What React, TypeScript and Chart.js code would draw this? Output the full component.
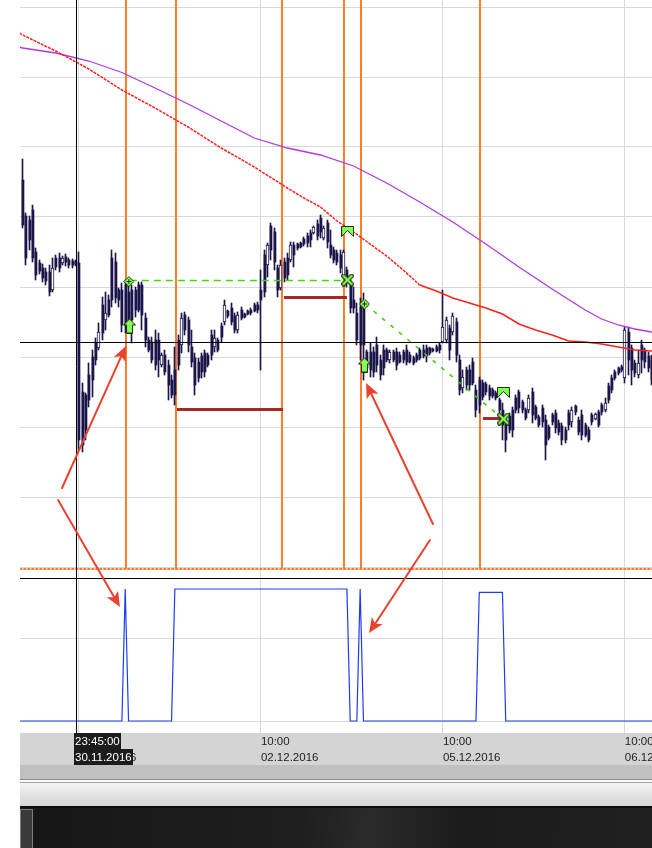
import React, { useEffect, useRef } from 'react';
import { Chart, registerables } from 'chart.js';

Chart.register(...registerables);

// ---------- DATA (price in points, one index = one candle) ----------
const OPEN = [
  420,384,380,390,348,337,332,328,328,310, 342,342,337,343,340,339,338,337,208,205,
  225,243,257,252,295,280,300,342,338,310, 310,315,308,310,310,315,315,282,260,258,
  260,260,235,245,235,220,230,260,255,285, 280,253,242,238,244,247,245,265,253,260,
  274,278,289,292,284,270,290,286,289,290, 295,295,310,345,335,374,368,332,312,338,
  342,340,355,356,357,361,364,367,367,376, 382,362,377,355,350,347,345,325,330,315,
  300,287,293,295,248,248,248,255,240,250, 250,240,248,248,245,248,250,245,242,245,
  250,250,252,252,251,253,255,258,260,272, 268,278,240,212,230,230,238,210,220,217,
  216,212,210,207,200,190,175,184,190,202, 208,198,190,190,208,193,183,192,180,173,
  185,187,177,174,170,187,178,194,180,185, 175,170,185,181,188,195,190,214,222,228,
  232,233,222,268,252,237,225,255,250,244, 240,
];
const HIGH = [
  441,387,384,395,352,340,336,332,335,342, 345,347,344,346,342,341,340,348,217,207,
  237,250,262,277,303,308,305,350,347,312, 317,320,315,315,313,318,318,287,263,263,
  270,267,247,250,240,225,253,265,287,288, 283,270,247,242,247,250,247,270,270,262,
  277,300,290,297,287,288,293,287,290,292, 297,298,330,350,357,377,372,335,340,342,
  347,358,358,357,358,363,367,370,374,380, 385,374,380,370,353,350,350,350,333,320,
  313,297,302,307,250,257,253,263,245,255, 252,250,250,252,248,250,255,248,244,247,
  252,255,255,253,252,255,257,310,283,275, 287,282,245,230,233,235,242,215,223,220,
  218,215,212,209,202,197,180,187,193,205, 210,200,192,205,212,195,185,195,185,175,
  187,190,180,177,173,190,193,195,183,190, 177,173,187,187,190,197,202,217,225,230,
  233,235,273,273,255,240,250,260,252,248, 245,
];
const LOW = [
  372,335,350,338,320,326,318,315,304,308, 330,328,335,334,332,332,334,150,148,160,
  193,203,235,250,260,270,283,293,297,293, 268,267,267,257,283,288,270,253,248,237,
  230,223,233,225,200,202,195,230,247,265, 248,233,205,218,222,223,233,240,248,248,
  258,275,282,275,267,267,280,282,285,285, 288,287,230,303,323,340,330,303,310,318,
  320,338,333,350,352,354,353,353,366,360, 362,360,352,342,337,335,327,322,313,287,
  287,255,240,220,228,223,223,228,220,225, 238,237,238,230,237,237,235,237,235,238,
  240,242,238,245,248,248,247,257,257,240, 265,238,205,207,210,210,215,183,187,200,
  205,200,202,200,187,160,148,167,163,187, 187,187,180,187,177,180,173,173,140,160,
  175,167,165,155,157,170,173,185,165,160, 163,158,175,180,173,185,188,197,207,220,
  225,228,217,225,215,223,222,227,232,228, 215,
];
const CLOSE = [
  375,342,360,342,325,329,322,319,308,332, 333,332,342,338,335,335,336,160,155,170,
  200,220,240,268,267,287,285,300,302,300, 275,275,280,280,290,290,285,260,250,240,
  235,240,245,228,215,205,205,235,282,270, 255,238,215,222,228,228,235,245,262,250,
  263,295,284,278,270,285,282,283,286,287, 289,290,300,308,355,350,338,310,335,322,
  325,355,345,352,353,356,357,360,373,364, 368,372,358,345,340,338,332,348,317,292,
  292,260,255,255,232,230,228,235,225,232, 240,248,240,235,238,240,238,238,237,240,
  242,244,244,247,249,249,250,273,280,250, 284,245,210,223,215,215,217,190,195,203,
  208,204,204,202,190,175,160,170,170,190, 192,190,182,202,185,182,175,178,155,162,
  178,172,168,160,160,175,190,188,168,165, 165,160,178,186,175,188,197,200,210,222,
  227,230,270,240,230,227,237,240,238,232, 220,
];

// moving averages (index, value)
const RED_MA_X = [-1,0,10,20,30,40,50,60,70,80,85,90,95,100,105,110,115,120,125,130,135,140,145,150,155,160,165,170,175,180,185,190,191];
const RED_MA = [567,565,549,531,510,492,473,452,433,412,402,393,379,368,356,344,330,315,309,302,297,292,286,276,270,265,259,258,256,253,250,249,248.5];
const PURPLE_MA_X = [-1,0,10,20,30,40,50,60,70,80,90,100,110,120,130,140,150,160,170,175,180,185,190,191];
const PURPLE_MA = [553,552,547,539,527.5,512,496,479,462,452,445,434,417,398,378,356,333,311,290,281,275,271,268,267.5];

// lower indicator (index, value)
const IND_X = [-1,30,31,32,45,46,98,99,101,102,103,137,138,145,146,191];
const IND_Y = [0,0,80,0,0,80,80,0,0,80,0,0,78,78,0,0];

// time axis
const TICK_INDEX = [17, 72, 127, 182];
const TICK_TIME = ['10:00', '10:00', '10:00', '10:00'];
const TICK_DATE = ['01.12.2016', '02.12.2016', '05.12.2016', '06.12.2016'];
const PRICE_GRID = [33, 103, 173, 243, 313, 383, 453, 523, 593];
const IND_GRID = [0, 50];

// crosshair
const CROSS_INDEX = 16.275;
const CROSS_PRICE = 257.5;
const CROSS_TIME = '23:45:00';
const CROSS_DATE = '30.11.2016';
const PANEL_SPLIT = 21.5;

// events
const EVENT_INDEX = [31.234, 46.344, 78.378, 97.115, 102.25, 138.215];
const EVENT_LEVEL = 31;

// levels (dark red)
const LEVEL_FROM = [46.65, 79.0, 139.1];
const LEVEL_TO = [78.7, 98.0, 144.9];
const LEVEL_PRICE = [190.5, 302.5, 181.5];

// green signal lines
const SIG_H_X = [32.4, 98.0];
const SIG_H_Y = [319.5, 319.5];
const SIG_D_X = [103.5, 145.2];
const SIG_D_Y = [296, 181];

// markers
const DIAMOND_X = [32.1, 103.3];
const DIAMOND_Y = [318.5, 296];
const BUY_X = [32.3, 103.3];
const BUY_Y = [274, 235];
const FLAG_X = [98.2, 145.3];
const FLAG_Y = [368.5, 207.5];
const EXIT_X = [98.2, 145.3];
const EXIT_Y = [320, 181];

// annotation arrows
const ARROW_TAIL_X = [11.9, 10.7, 124.0, 123.1];
const ARROW_TAIL_Y = [112, 100, 76, 60];
const ARROW_HEAD_X = [31.2, 29.4, 103.8, 104.7];
const ARROW_HEAD_Y = [254, 69.1, 217, 53.3];
const ARROW_HEAD_AXIS = ['y', 'y2', 'y', 'y2'];

// ---------- STYLE ----------
const NAVY = '#1b1549';
const GRID = '#d9d9d9';
const ORANGE = '#ff7d2a';
const FONT = "'Liberation Sans', Arial, sans-serif";
const ARROW_RED = '#e8432e';

function makeCanvas(w: number, h: number, draw: (c: CanvasRenderingContext2D) => void) {
  const c = document.createElement('canvas');
  c.width = w;
  c.height = h;
  draw(c.getContext('2d') as CanvasRenderingContext2D);
  return c;
}

function buildMarkers() {
  const fill = '#86ff58';
  const dark = '#173300';
  const diamond = makeCanvas(11, 11, (c) => {
    c.beginPath();
    c.moveTo(5.5, 0.5); c.lineTo(10.5, 5.5); c.lineTo(5.5, 10.5); c.lineTo(0.5, 5.5);
    c.closePath();
    c.fillStyle = fill; c.fill();
    c.strokeStyle = dark; c.lineWidth = 1; c.stroke();
    c.fillStyle = dark; c.fillRect(5, 3, 1, 5); c.fillRect(3, 5, 5, 1);
  });
  const buy = makeCanvas(13, 15, (c) => {
    c.beginPath();
    c.moveTo(6.5, 0.5); c.lineTo(12.5, 6.5); c.lineTo(9.5, 6.5); c.lineTo(9.5, 14.5);
    c.lineTo(3.5, 14.5); c.lineTo(3.5, 6.5); c.lineTo(0.5, 6.5); c.closePath();
    c.fillStyle = fill; c.fill();
    c.strokeStyle = dark; c.lineWidth = 1; c.stroke();
  });
  const flag = makeCanvas(13, 11, (c) => {
    c.beginPath();
    c.moveTo(0.5, 0.5); c.lineTo(12.5, 0.5); c.lineTo(12.5, 10.5); c.lineTo(6.5, 4.5); c.lineTo(0.5, 10.5);
    c.closePath();
    c.fillStyle = fill; c.fill();
    c.strokeStyle = dark; c.lineWidth = 1; c.stroke();
  });
  const exit = makeCanvas(13, 13, (c) => {
    c.lineCap = 'square';
    c.strokeStyle = dark; c.lineWidth = 4.5;
    c.beginPath(); c.moveTo(2.5, 2.5); c.lineTo(10.5, 10.5); c.moveTo(10.5, 2.5); c.lineTo(2.5, 10.5); c.stroke();
    c.strokeStyle = fill; c.lineWidth = 2.2;
    c.beginPath(); c.moveTo(2.5, 2.5); c.lineTo(10.5, 10.5); c.moveTo(10.5, 2.5); c.lineTo(2.5, 10.5); c.stroke();
  });
  return { diamond, buy, flag, exit };
}

function pts(xs: number[], ys: number[]) {
  return xs.map((x, k) => ({ x, y: ys[k] }));
}

// keep candle bars on whole pixels so that wicks and bodies stay crisp
const snapPlugin = {
  id: 'snap',
  afterDatasetUpdate(chart: any, args: any) {
    const meta = chart.getDatasetMeta(args.index);
    if (meta.type !== 'bar') return;
    const t = chart.data.datasets[args.index].barThickness;
    meta.data.forEach((el: any) => {
      el.x = t === 2 ? Math.floor(el.x) + 1 : Math.floor(el.x) + 0.5;
    });
  },
};

const decorPlugin = {
  id: 'decor',
  beforeDraw(chart: any) {
    const { ctx, chartArea } = chart;
    const xs = chart.scales.x;
    const L = chartArea.left;
    const R = chart.width;
    ctx.save();
    ctx.fillStyle = '#d4d4d4';
    ctx.fillRect(L, xs.top, R - L, xs.bottom - xs.top);
    let y = xs.bottom;
    ctx.fillStyle = '#c0c0c0'; ctx.fillRect(L, y, R - L, 14); y += 14;
    ctx.fillStyle = '#8c8c8c'; ctx.fillRect(L, y, R - L, 1); y += 1;
    ctx.fillStyle = '#fbfbfb'; ctx.fillRect(L, y, R - L, 2); y += 2;
    ctx.fillStyle = '#a4a4a4'; ctx.fillRect(L, y, R - L, 1); y += 1;
    const g = ctx.createLinearGradient(0, y, 0, y + 23);
    g.addColorStop(0, '#f3f3f3'); g.addColorStop(1, '#d4d4d4');
    ctx.fillStyle = g; ctx.fillRect(L, y, R - L, 23); y += 23;
    ctx.fillStyle = '#0c0c0c'; ctx.fillRect(L, y, R - L, 2); y += 2;
    const g2 = ctx.createLinearGradient(L, y, R, chart.height);
    g2.addColorStop(0, '#161616'); g2.addColorStop(0.45, '#1f1f1f');
    g2.addColorStop(0.55, '#2a2a2a'); g2.addColorStop(0.7, '#1c1c1c'); g2.addColorStop(1, '#202020');
    ctx.fillStyle = g2; ctx.fillRect(L, y, R - L, chart.height - y);
    ctx.fillStyle = '#3a3a3a'; ctx.fillRect(L + 1, y + 2, 11, chart.height - y);
    ctx.strokeStyle = '#7c7c7c'; ctx.lineWidth = 1;
    ctx.strokeRect(L + 0.5, y + 1.5, 12, chart.height - y);
    ctx.restore();
  },
};

const overlayPlugin = {
  id: 'overlay',
  afterDraw(chart: any) {
    const { ctx, chartArea: a } = chart;
    const xs = chart.scales.x;
    const ys = chart.scales.y;
    const y2 = chart.scales.y2;
    ctx.save();
    ctx.strokeStyle = '#000';
    ctx.lineWidth = 1;
    // panel separator
    const sy = ys.getPixelForValue(PANEL_SPLIT);
    ctx.beginPath(); ctx.moveTo(a.left, sy); ctx.lineTo(a.right, sy); ctx.stroke();
    // crosshair
    const cy = ys.getPixelForValue(CROSS_PRICE);
    ctx.beginPath(); ctx.moveTo(a.left, cy); ctx.lineTo(a.right, cy); ctx.stroke();
    const cx = xs.getPixelForValue(CROSS_INDEX);
    ctx.beginPath(); ctx.moveTo(cx, a.top); ctx.lineTo(cx, a.bottom); ctx.stroke();

    // crosshair time label
    ctx.font = `11.5px ${FONT}`;
    const bx = Math.round(cx) - 2;
    const w1 = Math.ceil(ctx.measureText(CROSS_TIME).width) + 2;
    const w2 = Math.ceil(ctx.measureText(CROSS_DATE).width) + 2;
    ctx.fillStyle = '#1c1c1c';
    ctx.fillRect(bx, xs.top, w1, 16);
    ctx.fillRect(bx, xs.top + 16, w2, 16);
    ctx.fillStyle = '#ffffff';
    ctx.textBaseline = 'middle';
    ctx.textAlign = 'left';
    ctx.fillText(CROSS_TIME, bx + 1, xs.top + 9);
    ctx.fillText(CROSS_DATE, bx + 1, xs.top + 25);

    // red annotation arrows
    ctx.strokeStyle = ARROW_RED;
    ctx.fillStyle = ARROW_RED;
    ctx.lineWidth = 2;
    ctx.lineCap = 'round';
    for (let k = 0; k < ARROW_TAIL_X.length; k++) {
      const x1 = xs.getPixelForValue(ARROW_TAIL_X[k]);
      const yy1 = ys.getPixelForValue(ARROW_TAIL_Y[k]);
      const x2 = xs.getPixelForValue(ARROW_HEAD_X[k]);
      const hs = ARROW_HEAD_AXIS[k] === 'y2' ? y2 : ys;
      const yy2 = hs.getPixelForValue(ARROW_HEAD_Y[k]);
      const ang = Math.atan2(yy2 - yy1, x2 - x1);
      const hl = 15, hw = 6.5;
      const cos = Math.cos(ang), sin = Math.sin(ang);
      const bxp = x2 - hl * cos, byp = yy2 - hl * sin;
      ctx.beginPath(); ctx.moveTo(x1, yy1); ctx.lineTo(x2 - hl * 0.7 * cos, yy2 - hl * 0.7 * sin); ctx.stroke();
      ctx.beginPath();
      ctx.moveTo(x2, yy2);
      ctx.lineTo(bxp + hw * sin, byp - hw * cos);
      ctx.lineTo(x2 - hl * 0.75 * cos, yy2 - hl * 0.75 * sin);
      ctx.lineTo(bxp - hw * sin, byp + hw * cos);
      ctx.closePath();
      ctx.fill();
    }
    ctx.restore();
  },
};

export default function App() {
  const ref = useRef<HTMLCanvasElement>(null);

  useEffect(() => {
    const canvas = ref.current;
    if (!canvas) return;
    const mk = buildMarkers();

    const idx = OPEN.map((_, i) => i);
    const bearIdx = idx.filter((i) => CLOSE[i] <= OPEN[i]);
    const bullIdx = idx.filter((i) => CLOSE[i] > OPEN[i]);
    const bearBodies = bearIdx.map((i) => ({ x: i, y: [CLOSE[i], OPEN[i]] }));
    const bullBodies = bullIdx.map((i) => ({ x: i, y: [OPEN[i], CLOSE[i]] }));
    const wicks = idx.map((i) => ({ x: i, y: [LOW[i], HIGH[i]] }));

    const eventPts: any[] = [];
    EVENT_INDEX.forEach((e) => {
      eventPts.push({ x: e, y: 600 }, { x: e, y: EVENT_LEVEL }, { x: e, y: NaN });
    });
    const levelPts: any[] = [];
    LEVEL_FROM.forEach((f, k) => {
      levelPts.push({ x: f, y: LEVEL_PRICE[k] }, { x: LEVEL_TO[k], y: LEVEL_PRICE[k] }, { x: LEVEL_TO[k], y: NaN });
    });

    const hideAxis = (s: any) => { s.width = 0; s.paddingTop = 0; s.paddingBottom = 0; };

    const chart = new Chart(canvas, {
      type: 'bar',
      data: {
        datasets: [
          { type: 'scatter', data: pts(EXIT_X, EXIT_Y), pointStyle: mk.exit, pointRadius: 6, order: 0 } as any,
          { type: 'scatter', data: pts(FLAG_X, FLAG_Y), pointStyle: mk.flag, pointRadius: 6, order: 0 } as any,
          { type: 'scatter', data: pts(BUY_X, BUY_Y), pointStyle: mk.buy, pointRadius: 6, order: 0 } as any,
          { type: 'scatter', data: pts(DIAMOND_X, DIAMOND_Y), pointStyle: mk.diamond, pointRadius: 6, order: 0 } as any,
          { type: 'line', data: pts(SIG_H_X, SIG_H_Y), borderColor: '#3ddc00', borderWidth: 1.3, borderDash: [7, 5], pointRadius: 0, order: 1 } as any,
          { type: 'line', data: pts(SIG_D_X, SIG_D_Y), borderColor: '#3ccc00', borderWidth: 1.5, borderDash: [4, 7], pointRadius: 0, order: 1 } as any,
          { type: 'line', data: levelPts, borderColor: '#a82828', borderWidth: 3, borderCapStyle: 'butt', spanGaps: false, pointRadius: 0, order: 1 } as any,
          {
            type: 'line', data: pts(RED_MA_X, RED_MA), borderColor: '#ff2020', borderWidth: 1.5, pointRadius: 0, order: 2,
            segment: { borderDash: (c: any) => (c.p0.parsed.x < 118 ? [3, 1] : []) },
          } as any,
          { type: 'line', data: pts(PURPLE_MA_X, PURPLE_MA), borderColor: '#b238e4', borderWidth: 1.3, pointRadius: 0, order: 2 } as any,
          { type: 'line', yAxisID: 'y2', data: pts(IND_X, IND_Y), borderColor: '#1d3cf2', borderWidth: 1.2, pointRadius: 0, order: 2 } as any,
          {
            type: 'bar', data: bullBodies, grouped: false, barThickness: 3, order: 4,
            backgroundColor: '#ffffff', borderColor: NAVY, borderWidth: 1, borderSkipped: false,
          } as any,
          { type: 'bar', data: bearBodies, grouped: false, barThickness: 2, order: 4, backgroundColor: NAVY } as any,
          { type: 'bar', data: wicks, grouped: false, barThickness: 1, order: 5, backgroundColor: NAVY } as any,
          { type: 'line', data: eventPts, borderColor: ORANGE, borderWidth: 2, spanGaps: false, pointRadius: 0, order: 8 } as any,
          { type: 'line', data: [{ x: -1, y: EVENT_LEVEL }, { x: 191, y: EVENT_LEVEL }], borderColor: ORANGE, borderWidth: 2, borderDash: [3, 1], pointRadius: 0, order: 8 } as any,
        ],
      },
      options: {
        animation: false,
        responsive: true,
        maintainAspectRatio: false,
        events: [],
        layout: { autoPadding: false, padding: { left: 20, right: 0, top: 0, bottom: 83 } },
        plugins: { legend: { display: false }, tooltip: { enabled: false } },
        scales: {
          x: {
            type: 'linear', min: -0.8, max: 190.2, offset: false,
            afterBuildTicks: (s: any) => { s.ticks = TICK_INDEX.map((v) => ({ value: v })); },
            afterFit: (s: any) => { s.height = 32; s.paddingLeft = 0; s.paddingRight = 0; },
            grid: { color: GRID, drawTicks: false, offset: false },
            border: { display: false },
            ticks: {
              autoSkip: false, maxRotation: 0, minRotation: 0, align: 'start', padding: 1,
              color: '#1e1e1e',
              font: { family: FONT, size: 11.5, lineHeight: '16px' },
              callback: (_v: any, i: number) => [TICK_TIME[i], TICK_DATE[i]],
            },
          },
          y: {
            type: 'linear', position: 'left', min: -133, max: 600,
            afterBuildTicks: (s: any) => { s.ticks = PRICE_GRID.map((v) => ({ value: v })); },
            afterFit: hideAxis,
            grid: { color: GRID, drawTicks: false },
            border: { display: false },
            ticks: { display: false },
          },
          y2: {
            type: 'linear', position: 'left', min: -7.27, max: 437,
            afterBuildTicks: (s: any) => { s.ticks = IND_GRID.map((v) => ({ value: v })); },
            afterFit: hideAxis,
            grid: { color: GRID, drawTicks: false },
            border: { display: false },
            ticks: { display: false },
          },
        } as any,
      } as any,
      plugins: [snapPlugin, decorPlugin, overlayPlugin],
    });
    return () => chart.destroy();
  }, []);

  return (
    <div style={{ position: 'absolute', left: 0, top: 0, width: 652, height: 848, background: '#ffffff' }}>
      <canvas ref={ref} />
    </div>
  );
}
